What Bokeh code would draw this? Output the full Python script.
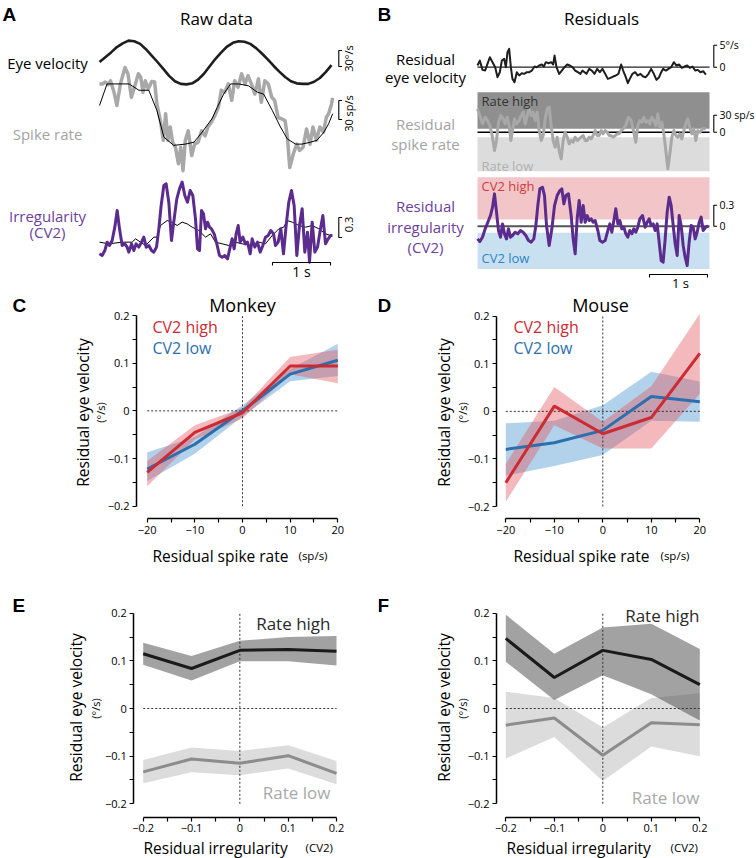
import math
from bokeh.plotting import figure
from bokeh.models import Range1d, Label, FixedTicker, LinearAxis
from bokeh.layouts import row, column
from bokeh.embed import file_html
from bokeh.resources import INLINE

FONT = "Open Sans"
LETTER_FONT = "Liberation Sans"

RED = "#cc2b33"
BLUE = "#2c6fae"
PURPLE = "#5b2b8e"
PURPLE_TXT = "#6c3f9e"
GRAY_TRACE = "#a8a8a8"
GRAY_TXT = "#a3a3a3"

# ------------------------------------------------------------------ data
# Panel A - raw data (time in s)
A_eye_t = [0.0, 0.1, 0.2, 0.3, 0.4, 0.5, 0.6, 0.7, 0.8, 0.9, 1.0, 1.1, 1.2, 1.3, 1.4, 1.5,
           1.6, 1.7, 1.8, 1.9, 2.0, 2.1, 2.2, 2.3, 2.4, 2.5, 2.6, 2.7, 2.8, 2.9, 3.0, 3.1,
           3.2, 3.3, 3.4, 3.5, 3.6, 3.7, 3.8, 3.9, 4.0]
A_eye = [0, 9, 18, 28, 35, 40, 39, 34, 24, 12, 0, -13, -26, -36, -41, -42, -40, -33, -22, -8,
         6, 18, 29, 36, 39, 38, 34, 26, 16, 5, -7, -18, -28, -36, -40, -41, -41, -37, -30, -19, -6]

A_rate_t = [0.00, 0.05, 0.10, 0.15, 0.19, 0.25, 0.30, 0.36, 0.44, 0.49, 0.55, 0.61, 0.67, 0.71,
            0.75, 0.79, 0.84, 0.90, 0.95, 0.99, 1.05, 1.10, 1.14, 1.18, 1.22, 1.26, 1.31, 1.36,
            1.40, 1.44, 1.48, 1.53, 1.59, 1.64, 1.70, 1.76, 1.82, 1.87, 1.93, 1.99, 2.05, 2.10,
            2.16, 2.22, 2.28, 2.33, 2.39, 2.45, 2.51, 2.56, 2.62, 2.68, 2.74, 2.79, 2.85, 2.91,
            2.97, 3.02, 3.08, 3.14, 3.20, 3.24, 3.28, 3.34, 3.40, 3.45, 3.51, 3.57, 3.63, 3.68,
            3.74, 3.80, 3.86, 3.91, 3.95, 4.00, 4.02]
A_rate = [153, 153, 156, 152, 158, 140, 119, 153, 179, 169, 132, 150, 169, 164, 140, 158, 145,
          157, 156, 121, 95, 64, 106, 64, 85, 61, 53, 27, 53, 16, 64, 79, 40, 58, 61, 79, 71,
          85, 93, 103, 116, 143, 140, 153, 127, 158, 148, 169, 153, 166, 153, 137, 161, 124,
          158, 153, 132, 127, 100, 98, 95, 69, 21, 42, 58, 48, 53, 82, 58, 85, 64, 85, 77, 100,
          106, 121, 131]

A_fit_t = [0.00, 0.13, 0.51, 0.68, 0.85, 0.99, 1.11, 1.28, 1.48, 1.63, 1.77, 1.94, 2.03, 2.14,
           2.26, 2.40, 2.57, 2.72, 2.83, 2.98, 3.12, 3.24, 3.38, 3.49, 3.64, 3.75, 3.87, 3.95, 4.02]
A_fit = [119, 153, 153, 143, 143, 111, 69, 56, 58, 61, 77, 98, 116, 137, 153, 153, 150, 140,
         137, 111, 85, 66, 58, 58, 61, 64, 77, 90, 106]

A_cv2_t = [0.000, 0.046, 0.092, 0.132, 0.172, 0.218, 0.264, 0.305, 0.345, 0.391,
           0.437, 0.477, 0.506, 0.552, 0.592, 0.632, 0.678, 0.724, 0.764, 0.805,
           0.851, 0.897, 0.937, 0.983, 1.023, 1.063, 1.109, 1.149, 1.195, 1.241,
           1.287, 1.333, 1.379, 1.425, 1.471, 1.517, 1.563, 1.609, 1.655, 1.690,
           1.724, 1.759, 1.793, 1.828, 1.862, 1.897, 1.931, 1.977, 2.023, 2.069,
           2.115, 2.161, 2.207, 2.253, 2.287, 2.322, 2.356, 2.391, 2.425, 2.471,
           2.517, 2.552, 2.598, 2.632, 2.678, 2.724, 2.770, 2.816, 2.862, 2.908,
           2.954, 3.000, 3.034, 3.080, 3.126, 3.172, 3.218, 3.264, 3.310, 3.356,
           3.402, 3.448, 3.494, 3.540, 3.586, 3.621, 3.667, 3.713, 3.759, 3.805,
           3.851, 3.897, 3.943, 3.983, 4.017]
A_cv2 = [0.200, 0.175, 0.250, 0.375, 0.325, 0.400, 0.600, 0.850, 0.575, 0.325,
         0.350, 0.300, 0.225, 0.350, 0.250, 0.350, 0.300, 0.375, 0.450, 0.300,
         0.325, 0.250, 0.225, 0.300, 0.575, 0.925, 1.225, 1.250, 0.975, 0.400,
         0.725, 1.025, 1.175, 1.275, 1.075, 0.975, 1.150, 1.075, 0.725, 0.275,
         0.250, 0.850, 0.800, 0.575, 0.675, 0.600, 0.575, 0.500, 0.350, 0.175,
         0.150, 0.175, 0.125, 0.300, 0.425, 0.275, 0.500, 0.625, 0.375, 0.450,
         0.350, 0.375, 0.200, 0.425, 0.300, 0.375, 0.225, 0.325, 0.450, 0.475,
         0.550, 0.500, 0.325, 0.375, 0.575, 0.200, 0.625, 0.975, 1.150, 0.925,
         0.175, 0.625, 0.875, 0.225, 0.525, 0.075, 0.675, 0.225, 0.300, 0.550,
         0.775, 0.350, 0.425, 0.475, 0.475]

A_cv2fit_t = [0.000, 0.161, 0.391, 0.563, 0.621, 0.793, 0.937, 0.994, 1.052, 1.167,
              1.253, 1.339, 1.425, 1.511, 1.598, 1.713, 1.828, 1.914, 2.000, 2.115,
              2.230, 2.345, 2.460, 2.632, 2.747, 2.862, 2.977, 3.092, 3.178, 3.236,
              3.322, 3.437, 3.552, 3.667, 3.782, 3.897, 3.983]
A_cv2fit = [0.375, 0.350, 0.375, 0.375, 0.425, 0.325, 0.450, 0.450, 0.625, 0.700,
            0.675, 0.625, 0.675, 0.650, 0.600, 0.550, 0.450, 0.500, 0.375, 0.350,
            0.325, 0.375, 0.350, 0.325, 0.375, 0.350, 0.475, 0.575, 0.600, 0.700,
            0.675, 0.625, 0.600, 0.625, 0.575, 0.500, 0.475]

# Panel B - residuals
B_eye_t = [0.000, 0.040, 0.086, 0.132, 0.172, 0.213, 0.259, 0.305, 0.345, 0.385,
           0.420, 0.460, 0.489, 0.517, 0.546, 0.575, 0.603, 0.638, 0.678, 0.718,
           0.764, 0.805, 0.851, 0.891, 0.937, 0.983, 1.023, 1.063, 1.109, 1.144,
           1.178, 1.224, 1.270, 1.305, 1.328, 1.362, 1.408, 1.454, 1.500, 1.546,
           1.592, 1.638, 1.684, 1.730, 1.776, 1.810, 1.845, 1.879, 1.925, 1.971,
           2.017, 2.063, 2.109, 2.155, 2.201, 2.247, 2.293, 2.339, 2.385, 2.431,
           2.477, 2.511, 2.557, 2.592, 2.626, 2.672, 2.718, 2.764, 2.810, 2.856,
           2.902, 2.948, 2.994, 3.040, 3.086, 3.132, 3.167, 3.201, 3.247, 3.293,
           3.339, 3.385, 3.431, 3.477, 3.523, 3.569, 3.615, 3.661, 3.707, 3.753,
           3.799, 3.845, 3.891, 3.937]
B_eye = [0.38, 1.51, -0.61, -0.76, 0.76, 2.27, 1.14, 0.00, -2.27, -1.14,
         1.51, 1.89, 0.00, 3.41, 4.16, 0.00, -2.65, -3.41, -1.14, -1.89,
         -1.36, -1.51, -1.14, -1.14, -0.76, 0.15, 0.00, 0.38, 0.61, 0.15,
         1.14, 0.91, 1.14, 0.61, 2.65, 0.00, -1.51, -0.76, 0.00, 0.61,
         0.38, 0.00, -0.76, -1.14, -1.51, -0.76, -1.14, -1.51, -0.38, -0.76,
         -1.51, -0.38, -1.14, -0.38, -1.51, -2.65, -2.42, -2.12, -1.89, -1.51,
         0.61, -0.76, -2.27, -3.63, -2.65, -1.51, -1.14, -1.89, -1.51, -2.12,
         -2.27, -1.51, -0.38, -1.51, -2.88, -2.27, -1.14, -0.38, -0.76, -0.38,
         0.00, 1.14, 0.38, 0.61, -0.15, 0.15, 0.38, -0.15, 0.15, -0.76,
         -0.61, -1.14, -0.91, -1.67]

B_rate_t = [0.000, 0.040, 0.086, 0.132, 0.172, 0.213, 0.259, 0.293, 0.328, 0.362,
            0.402, 0.443, 0.477, 0.511, 0.546, 0.575, 0.603, 0.638, 0.672, 0.718,
            0.753, 0.787, 0.822, 0.856, 0.891, 0.925, 0.960, 0.994, 1.029, 1.063,
            1.098, 1.132, 1.167, 1.201, 1.236, 1.270, 1.305, 1.339, 1.374, 1.408,
            1.443, 1.477, 1.511, 1.546, 1.580, 1.615, 1.649, 1.684, 1.718, 1.753,
            1.787, 1.822, 1.856, 1.891, 1.925, 1.960, 1.994, 2.029, 2.063, 2.098,
            2.132, 2.167, 2.201, 2.236, 2.270, 2.305, 2.339, 2.374, 2.408, 2.443,
            2.477, 2.511, 2.557, 2.603, 2.649, 2.695, 2.730, 2.764, 2.799, 2.833,
            2.868, 2.902, 2.937, 2.971, 3.006, 3.040, 3.075, 3.109, 3.144, 3.178,
            3.213, 3.247, 3.282, 3.316, 3.351, 3.385, 3.420, 3.454, 3.489, 3.523,
            3.557, 3.592, 3.626, 3.661, 3.695, 3.730, 3.764, 3.799, 3.833, 3.879,
            3.937]
B_rate = [41.2, 29.4, 14.7, 26.5, 20.6, 11.8, -8.8, -32.3, -14.7, 17.6,
          29.4, 23.5, 14.7, 26.5, 11.8, -14.7, 2.9, 23.5, 14.7, 20.6,
          29.4, 35.3, 14.7, 29.4, 41.2, 29.4, 35.3, 20.6, 35.3, 2.9,
          -14.7, -5.9, 23.5, 41.2, 44.1, 11.8, -14.7, -26.5, -8.8, -32.3,
          -47.0, -14.7, 0.0, -8.8, -20.6, -14.7, -17.6, -8.8, -14.7, -11.8,
          -8.8, -5.9, -14.7, -14.7, -8.8, -11.8, -5.9, 2.9, -5.9, -5.9,
          2.9, -2.9, 2.9, 0.0, -5.9, -5.9, -8.8, -5.9, -2.9, -2.9,
          2.9, 5.9, 11.8, 26.5, 20.6, 0.0, -17.6, 11.8, 20.6, 17.6,
          26.5, 17.6, 20.6, 14.7, 26.5, 20.6, 11.8, 32.3, 8.8, 17.6,
          -2.9, -32.3, -64.7, -38.2, -8.8, 2.9, -5.9, -8.8, -2.9, -11.8,
          2.9, 14.7, 23.5, 8.8, -2.9, 5.9, -14.7, 2.9, 0.0, 5.9,
          5.9]

B_cv2_t = [0.000, 0.040, 0.086, 0.132, 0.178, 0.224, 0.259, 0.293, 0.328, 0.362,
           0.397, 0.431, 0.466, 0.500, 0.534, 0.569, 0.603, 0.649, 0.695, 0.741,
           0.787, 0.833, 0.879, 0.925, 0.971, 1.006, 1.040, 1.075, 1.121, 1.155,
           1.190, 1.236, 1.282, 1.328, 1.374, 1.420, 1.454, 1.489, 1.523, 1.569,
           1.615, 1.649, 1.684, 1.718, 1.753, 1.787, 1.822, 1.856, 1.891, 1.925,
           1.960, 1.994, 2.029, 2.075, 2.109, 2.155, 2.201, 2.247, 2.282, 2.316,
           2.351, 2.385, 2.420, 2.454, 2.489, 2.523, 2.557, 2.592, 2.626, 2.661,
           2.695, 2.730, 2.764, 2.799, 2.845, 2.891, 2.925, 2.960, 2.994, 3.029,
           3.063, 3.098, 3.132, 3.167, 3.201, 3.236, 3.270, 3.305, 3.339, 3.374,
           3.408, 3.443, 3.477, 3.511, 3.546, 3.580, 3.615, 3.649, 3.684, 3.718,
           3.753, 3.787, 3.822, 3.856, 3.891, 3.937, 3.983]
B_cv2 = [-0.181, -0.219, -0.157, -0.038, 0.057, 0.152, 0.271, 0.462, 0.200, -0.062,
         -0.157, 0.033, -0.109, -0.181, -0.038, -0.157, -0.133, -0.086, -0.109, -0.062,
         -0.086, -0.133, -0.205, -0.228, -0.181, 0.010, 0.295, 0.533, 0.557, 0.438,
         0.010, -0.276, -0.038, 0.295, 0.438, 0.509, 0.533, 0.319, 0.438, 0.462,
         0.152, -0.181, -0.395, 0.105, 0.367, 0.057, 0.295, 0.057, 0.152, 0.081,
         0.105, 0.057, 0.081, -0.062, -0.205, -0.228, -0.205, -0.062, 0.033, -0.086,
         0.081, 0.248, 0.033, 0.081, -0.038, -0.014, -0.109, -0.157, -0.062, -0.109,
         -0.038, -0.086, -0.014, 0.105, 0.152, -0.014, 0.057, 0.105, 0.010, 0.033,
         -0.062, 0.033, -0.228, -0.490, -0.514, -0.181, 0.200, 0.414, 0.295, 0.010,
         -0.252, -0.419, 0.152, 0.010, -0.276, -0.443, -0.562, -0.228, 0.010, -0.014,
         -0.181, -0.086, 0.057, 0.129, -0.062, -0.014, 0.000]

B_band_t = [0.0, 4.0]
B_rate_high_band = [5.9, 70.6]
B_rate_low_band = [-68.8, -8.8]
B_cv2_high_band = [0.095, 0.70]
B_cv2_low_band = [-0.61, -0.095]

# Scale bars
A_scale = {"eye": 30, "rate": 30, "cv2": 0.3}
A_scale_text = {"eye": "30°/s", "rate": "30 sp/s", "cv2": "0.3"}
B_scale = {"eye": 5, "rate": 30, "cv2": 0.3}
B_scale_text = {"eye": "5°/s", "rate": "30 sp/s", "cv2": "0.3"}
TIME_BAR_S = 1.0

# Panels C, D: residual eye velocity vs residual spike rate
rate_bins = [-20, -10, 0, 10, 20]
C_high = [-0.129, -0.045, -0.004, 0.094, 0.094]
C_high_lo = [-0.158, -0.060, -0.016, 0.077, 0.058]
C_high_hi = [-0.105, -0.030, 0.006, 0.113, 0.128]
C_low = [-0.122, -0.070, 0.000, 0.077, 0.106]
C_low_lo = [-0.147, -0.090, -0.012, 0.062, 0.073]
C_low_hi = [-0.087, -0.055, 0.012, 0.088, 0.141]

D_high = [-0.150, 0.011, -0.047, -0.013, 0.122]
D_high_lo = [-0.190, -0.029, -0.078, -0.078, 0.037]
D_high_hi = [-0.110, 0.051, -0.022, 0.053, 0.205]
D_low = [-0.080, -0.066, -0.040, 0.031, 0.020]
D_low_lo = [-0.135, -0.115, -0.092, -0.020, -0.022]
D_low_hi = [-0.025, -0.020, 0.013, 0.083, 0.063]

# Panels E, F: residual eye velocity vs residual irregularity
cv2_bins = [-0.2, -0.1, 0.0, 0.1, 0.2]
E_high = [0.115, 0.084, 0.122, 0.124, 0.120]
E_high_lo = [0.092, 0.059, 0.099, 0.099, 0.090]
E_high_hi = [0.138, 0.110, 0.142, 0.150, 0.152]
E_low = [-0.133, -0.106, -0.115, -0.099, -0.136]
E_low_lo = [-0.157, -0.134, -0.140, -0.126, -0.159]
E_low_hi = [-0.108, -0.082, -0.089, -0.077, -0.110]

F_high = [0.147, 0.065, 0.122, 0.103, 0.050]
F_high_lo = [0.098, 0.018, 0.070, 0.030, -0.025]
F_high_hi = [0.197, 0.115, 0.170, 0.178, 0.125]
F_low = [-0.035, -0.020, -0.098, -0.030, -0.034]
F_low_lo = [-0.105, -0.060, -0.152, -0.080, -0.100]
F_low_hi = [0.035, 0.022, -0.040, 0.022, 0.032]

y_ticks = [-0.2, -0.1, 0.0, 0.1, 0.2]
y_minor = [-0.15, -0.05, 0.05, 0.15]
rate_ticks = [-20, -10, 0, 10, 20]
rate_minor = [-15, -5, 5, 15]
cv2_ticks = [-0.2, -0.1, 0.0, 0.1, 0.2]
cv2_minor = [-0.15, -0.05, 0.05, 0.15]


# ------------------------------------------------------------------ helpers
def lin(d1, p1, d2, p2, p):
    return d1 + (p - p1) * (d2 - d1) / (p2 - p1)


def add_label(p, x, y, text, size="15px", color="black", align="left", baseline="middle",
              angle=0.0, font=FONT, style="normal", x_range_name="default", y_range_name="default"):
    p.add_layout(Label(x=x, y=y, text=text, text_font=font, text_font_size=size,
                       text_color=color, text_align=align, text_baseline=baseline,
                       angle=angle, text_font_style=style,
                       x_range_name=x_range_name, y_range_name=y_range_name))


def letter(p, x, y, text):
    add_label(p, x, y, text, size="19px", font=LETTER_FONT, style="bold")


def trace_fig(cx0, cy0, w, h, t0_px, px_per_s, tracks):
    p = figure(width=w, height=h, x_range=Range1d(cx0, cx0 + w), y_range=Range1d(-(cy0 + h), -cy0),
               x_axis_type=None, y_axis_type=None, toolbar_location=None, output_backend="svg",
               min_border=0, title=None)
    p.outline_line_color = None
    p.background_fill_color = "white"
    p.border_fill_color = "white"
    p.extra_x_ranges = {"t": Range1d((cx0 - t0_px) / px_per_s, (cx0 + w - t0_px) / px_per_s)}
    yr = {}
    for name, (zero_px, zero_val, ppu) in tracks.items():
        yr[name] = Range1d(zero_val + (zero_px - (cy0 + h)) / ppu, zero_val + (zero_px - cy0) / ppu)
    p.extra_y_ranges = yr
    return p


def val_at(tracks, name, px):
    zero_px, zero_val, ppu = tracks[name]
    return zero_val + (zero_px - px) / ppu


def bracket(p, x_px, y_lo, y_hi, yname):
    p.line([x_px + 3.3, x_px, x_px, x_px + 3.3], [y_lo, y_lo, y_hi, y_hi],
           y_range_name=yname, line_color="black", line_width=1.1)


def time_bar(p, t0, y_px):
    p.line([t0, t0, t0 + TIME_BAR_S, t0 + TIME_BAR_S], [-(y_px + 3), -y_px, -y_px, -(y_px + 3)],
           x_range_name="t", line_color="black", line_width=1.1)


def style_axis(ax, ticks, minor, bounds):
    ax.ticker = FixedTicker(ticks=ticks, minor_ticks=minor)
    ax.bounds = bounds
    ax.axis_line_width = 1.5
    ax.axis_line_color = "black"
    ax.major_tick_line_width = 1.2
    ax.minor_tick_line_width = 1.2
    ax.major_tick_line_color = "black"
    ax.minor_tick_line_color = "black"
    ax.major_tick_out = 4
    ax.major_tick_in = 0
    ax.minor_tick_out = 4
    ax.minor_tick_in = 0
    ax.major_label_text_font = FONT
    ax.major_label_text_font_size = "11px"
    ax.major_label_text_color = "black"
    ax.major_label_standoff = 3
    ax.major_label_overrides = {0: "0"}


def axes_fig(cx0, cy0, w, h, xmap, ymap, axis_x_px, axis_y_px, xticks, xminor):
    def X(px):
        return lin(xmap[0], xmap[1], xmap[2], xmap[3], px)

    def Y(py):
        return lin(ymap[0], ymap[1], ymap[2], ymap[3], py)

    p = figure(width=w, height=h, x_range=Range1d(X(cx0), X(cx0 + w)), y_range=Range1d(Y(cy0 + h), Y(cy0)),
               x_axis_type=None, y_axis_type=None, toolbar_location=None, output_backend="svg",
               title=None, min_border=0)
    p.outline_line_color = None
    p.background_fill_color = "white"
    p.border_fill_color = "white"
    xaxis = LinearAxis(fixed_location=Y(axis_y_px))
    yaxis = LinearAxis(fixed_location=X(axis_x_px))
    style_axis(xaxis, xticks, xminor, (min(xmap[0], xmap[2]), max(xmap[0], xmap[2])))
    style_axis(yaxis, y_ticks, y_minor, (min(ymap[0], ymap[2]), max(ymap[0], ymap[2])))
    p.add_layout(xaxis, "below")
    p.add_layout(yaxis, "left")
    return p, X, Y


def zero_lines(p, xs):
    p.line([xs[0], xs[-1]], [0, 0], line_color="#333333", line_width=1, line_dash="2 2")
    p.line([0, 0], [y_ticks[0], y_ticks[-1]], line_color="#333333", line_width=1, line_dash="2 2")


# ------------------------------------------------------------------ panel A
A_TRACKS = {"eye": (61.5, 0.0, 16 / 30), "rate": (117.0, 100.0, 19 / 30), "cv2": (240.0, 0.4, 20 / 0.3)}
pA = trace_fig(0, 0, 378, 290, 99, 58, A_TRACKS)
pA.line(A_eye_t, A_eye, x_range_name="t", y_range_name="eye", line_color="#1e1e1e", line_width=2.6)
pA.line(A_rate_t, A_rate, x_range_name="t", y_range_name="rate", line_color=GRAY_TRACE, line_width=3.5,
        line_join="round")
pA.line(A_fit_t, A_fit, x_range_name="t", y_range_name="rate", line_color="black", line_width=1)
pA.line(A_cv2fit_t, A_cv2fit, x_range_name="t", y_range_name="cv2", line_color="black", line_width=1)
pA.line(A_cv2_t, A_cv2, x_range_name="t", y_range_name="cv2", line_color=PURPLE, line_width=3,
        line_join="round")

for name, lo_px, txt_px in (("eye", 66, 58), ("rate", 119, 113), ("cv2", 237, 224)):
    lo = val_at(A_TRACKS, name, lo_px)
    bracket(pA, 338.3, lo, lo + A_scale[name], name)
    add_label(pA, 348, -txt_px, A_scale_text[name], size="11px", align="center", angle=math.pi / 2)
time_bar(pA, (272 - 99) / 58, 262)
add_label(pA, 301, -271, "1 s", size="14px", align="center")

letter(pA, 2, -14, "A")
add_label(pA, 216, -18, "Raw data", size="17px", align="center")
add_label(pA, 47, -62, "Eye velocity", size="15px", align="center")
add_label(pA, 47, -133, "Spike rate", size="15px", align="center", color=GRAY_TXT)
add_label(pA, 47, -215, "Irregularity", size="15px", align="center", color=PURPLE_TXT)
add_label(pA, 47, -231, "(CV2)", size="15px", align="center", color=PURPLE_TXT)

# ------------------------------------------------------------------ panel B
B_TRACKS = {"eye": (66.7, 0.0, 22 / 5), "rate": (131.7, 0.0, 17 / 30), "cv2": (225.7, 0.0, 21 / 0.3)}
pB = trace_fig(378, 0, 378, 290, 477, 58, B_TRACKS)
pB.quad(left=B_band_t[0], right=B_band_t[1], bottom=B_rate_high_band[0], top=B_rate_high_band[1],
        x_range_name="t", y_range_name="rate", fill_color="#8f8f8f", line_color=None)
pB.quad(left=B_band_t[0], right=B_band_t[1], bottom=B_rate_low_band[0], top=B_rate_low_band[1],
        x_range_name="t", y_range_name="rate", fill_color="#dcdcdc", line_color=None)
pB.quad(left=B_band_t[0], right=B_band_t[1], bottom=B_cv2_high_band[0], top=B_cv2_high_band[1],
        x_range_name="t", y_range_name="cv2", fill_color="#f2c6c8", line_color=None)
pB.quad(left=B_band_t[0], right=B_band_t[1], bottom=B_cv2_low_band[0], top=B_cv2_low_band[1],
        x_range_name="t", y_range_name="cv2", fill_color="#c9e0f1", line_color=None)
for name, col, lw in (("eye", "#222222", 1.3), ("rate", "black", 1.6), ("cv2", "#555555", 2.0)):
    pB.line(B_band_t, [0, 0], x_range_name="t", y_range_name=name, line_color=col, line_width=lw)
pB.line(B_eye_t, B_eye, x_range_name="t", y_range_name="eye", line_color="#1e1e1e", line_width=2,
        line_join="round")
pB.line(B_rate_t, B_rate, x_range_name="t", y_range_name="rate", line_color=GRAY_TRACE, line_width=3,
        line_join="round")
pB.line(B_cv2_t, B_cv2, x_range_name="t", y_range_name="cv2", line_color=PURPLE, line_width=3,
        line_join="round")

for name in ("eye", "rate", "cv2"):
    bracket(pB, 713.3, 0, B_scale[name], name)
    add_label(pB, 719, B_scale[name], B_scale_text[name], size="10.5px", y_range_name=name)
    add_label(pB, 719, 0, "0", size="10.5px", y_range_name=name)
time_bar(pB, (649 - 477) / 58, 274)
add_label(pB, 680, -282, "1 s", size="13px", align="center")

letter(pB, 377, -14, "B")
add_label(pB, 601, -18, "Residuals", size="17px", align="center")
add_label(pB, 425, -58, "Residual", size="15px", align="center")
add_label(pB, 425, -76, "eye velocity", size="15px", align="center")
add_label(pB, 425, -123, "Residual", size="15px", align="center", color=GRAY_TXT)
add_label(pB, 425, -143, "spike rate", size="15px", align="center", color=GRAY_TXT)
add_label(pB, 425, -205, "Residual", size="15px", align="center", color=PURPLE_TXT)
add_label(pB, 425, -226, "irregularity", size="15px", align="center", color=PURPLE_TXT)
add_label(pB, 425, -246, "(CV2)", size="15px", align="center", color=PURPLE_TXT)
add_label(pB, 481, -100, "Rate high", size="13px", color="#333333")
add_label(pB, 481, -165, "Rate low", size="13px", color="#b0b0b0")
add_label(pB, 481, -185, "CV2 high", size="13px", color="#d23b3b")
add_label(pB, 481, -257, "CV2 low", size="13px", color="#2f86c8")


# ------------------------------------------------------------------ panels C, D
def cv2_split_panel(cx0, xmap, ymap, axis_x_px, axis_y_px, hi, hi_lo, hi_hi, lo, lo_lo, lo_hi,
                    letter_txt, letter_x, title, title_x, leg_x, ytitle_x, yunit_x, xtitle_x, xunit_x):
    p, X, Y = axes_fig(cx0, 290, 378, 300, xmap, ymap, axis_x_px, axis_y_px, rate_ticks, rate_minor)
    p.varea(x=rate_bins, y1=lo_lo, y2=lo_hi, fill_color="#3e8ecd", fill_alpha=0.4)
    p.varea(x=rate_bins, y1=hi_lo, y2=hi_hi, fill_color="#e15058", fill_alpha=0.4)
    zero_lines(p, rate_bins)
    p.line(rate_bins, lo, line_color=BLUE, line_width=3)
    p.line(rate_bins, hi, line_color=RED, line_width=3)
    letter(p, X(letter_x), Y(305), letter_txt)
    add_label(p, X(title_x), Y(304), title, size="18px", align="center")
    add_label(p, X(leg_x), Y(326), "CV2 high", size="16px", color=RED)
    add_label(p, X(leg_x), Y(347), "CV2 low", size="16px", color=BLUE)
    add_label(p, X(ytitle_x), Y(412), "Residual eye velocity", size="15.5px", align="center",
              angle=math.pi / 2)
    add_label(p, X(yunit_x), Y(412), "(°/s)", size="11px", align="center", angle=math.pi / 2)
    add_label(p, X(xtitle_x), Y(555), "Residual spike rate", size="15.5px", baseline="alphabetic")
    add_label(p, X(xunit_x), Y(555), "(sp/s)", size="11.5px", baseline="alphabetic")
    return p


pC = cv2_split_panel(0, (-20, 146.7, 20, 337.3), (0.2, 315.0, -0.2, 505.7), 136.0, 518.0,
                     C_high, C_high_lo, C_high_hi, C_low, C_low_lo, C_low_hi,
                     "C", 12, "Monkey", 242, 152, 82, 100, 152, 298)
pD = cv2_split_panel(378, (-20, 505.3, 20, 699.3), (0.2, 315.7, -0.2, 506.0), 496.0, 518.3,
                     D_high, D_high_lo, D_high_hi, D_low, D_low_lo, D_low_hi,
                     "D", 377, "Mouse", 600, 513, 443, 462, 513, 660)


# ------------------------------------------------------------------ panels E, F
def rate_split_panel(cx0, xmap, ymap, axis_x_px, axis_y_px, hi, hi_lo, hi_hi, lo, lo_lo, lo_hi,
                     letter_txt, letter_x, right_x, high_y, low_y, ytitle_x, yunit_x, xtitle_x, xunit_x):
    p, X, Y = axes_fig(cx0, 590, 378, 268, xmap, ymap, axis_x_px, axis_y_px, cv2_ticks, cv2_minor)
    p.varea(x=cv2_bins, y1=lo_lo, y2=lo_hi, fill_color="#dcdcdc", fill_alpha=1.0)
    p.varea(x=cv2_bins, y1=hi_lo, y2=hi_hi, fill_color="#565656", fill_alpha=0.55)
    zero_lines(p, cv2_bins)
    p.line(cv2_bins, lo, line_color="#8c8c8c", line_width=3)
    p.line(cv2_bins, hi, line_color="#1a1a1a", line_width=3)
    letter(p, X(letter_x), Y(605), letter_txt)
    add_label(p, X(right_x), Y(high_y), "Rate high", size="17px", align="right", color="#2a2a2a")
    add_label(p, X(right_x), Y(low_y), "Rate low", size="17px", align="right", color="#a8a8a8")
    add_label(p, X(ytitle_x), Y(707), "Residual eye velocity", size="15.5px", align="center",
              angle=math.pi / 2)
    add_label(p, X(yunit_x), Y(708), "(°/s)", size="11px", align="center", angle=math.pi / 2)
    add_label(p, X(xtitle_x), Y(847), "Residual irregularity", size="15.5px", baseline="alphabetic")
    add_label(p, X(xunit_x), Y(847), "(CV2)", size="11.5px", baseline="alphabetic")
    return p


pE = rate_split_panel(0, (-0.2, 142.7, 0.2, 336.0), (0.2, 612.7, -0.2, 803.3), 133.3, 816.7,
                      E_high, E_high_lo, E_high_hi, E_low, E_low_lo, E_low_hi,
                      "E", 12, 330, 623, 792, 75, 95, 143, 305)
pF = rate_split_panel(378, (-0.2, 505.3, 0.2, 699.3), (0.2, 612.7, -0.2, 803.3), 496.0, 816.7,
                      F_high, F_high_lo, F_high_hi, F_low, F_low_lo, F_low_hi,
                      "F", 377, 699, 615, 797, 443, 462, 506, 670)

layout = column(row(pA, pB), row(pC, pD), row(pE, pF))
open("out.html", "w").write(file_html(layout, INLINE, "figure"))
